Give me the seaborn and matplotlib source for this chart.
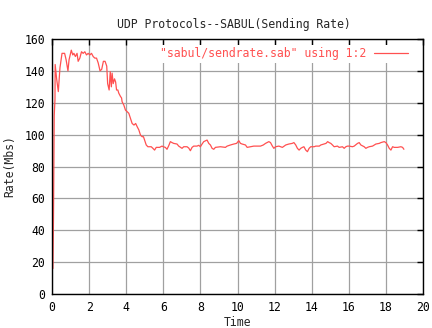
import matplotlib
matplotlib.use("Agg")
import matplotlib.pyplot as plt
import seaborn as sns
import pandas as pd

# Sending rate of SABUL over time (seconds, Mbs)
time_s = [0.05, 0.08, 0.12, 0.16, 0.17, 0.25, 0.34, 0.43, 0.54, 0.68, 0.76, 0.86,
          0.92, 1.04, 1.12, 1.18, 1.26, 1.35, 1.41, 1.50, 1.59, 1.68, 1.77, 1.86,
          1.95, 2.04, 2.13, 2.22, 2.31, 2.40, 2.49, 2.59, 2.68, 2.77, 2.86, 2.95,
          3.00, 3.08, 3.14, 3.20, 3.24, 3.30, 3.37, 3.43, 3.48, 3.55, 3.60, 3.69,
          3.75, 3.78, 3.87, 3.96, 4.05, 4.14, 4.23, 4.32, 4.42, 4.51, 4.59, 4.68,
          4.77, 4.86, 4.93, 4.99, 5.08, 5.17, 5.35, 5.44, 5.53, 5.62, 5.80, 5.93,
          6.00, 6.11, 6.20, 6.29, 6.38, 6.47, 6.56, 6.74, 6.83, 7.01, 7.10, 7.28,
          7.37, 7.46, 7.55, 7.64, 7.82, 7.91, 8.00, 8.09, 8.18, 8.36, 8.45, 8.54,
          8.63, 8.72, 8.81, 9.08, 9.35, 9.44, 9.62, 9.80, 9.95, 10.07, 10.16, 10.25,
          10.43, 10.52, 10.70, 10.88, 11.06, 11.24, 11.39, 11.51, 11.69, 11.78, 11.88,
          11.96, 12.05, 12.23, 12.42, 12.60, 12.77, 12.95, 13.04, 13.14, 13.23, 13.32,
          13.41, 13.50, 13.58, 13.68, 13.77, 13.86, 13.95, 14.13, 14.22, 14.41, 14.49,
          14.67, 14.77, 14.86, 14.94, 15.03, 15.12, 15.21, 15.39, 15.48, 15.66, 15.75,
          15.84, 15.93, 16.02, 16.20, 16.29, 16.47, 16.56, 16.65, 16.83, 16.92, 17.01,
          17.10, 17.28, 17.46, 17.64, 17.73, 17.91, 18.00, 18.09, 18.18, 18.27, 18.36,
          18.45, 18.63, 18.81, 18.90, 18.97]
rate_mbs = [16, 48, 112, 122, 144, 135, 127, 142, 151, 151, 147, 140,
            147, 153, 150, 151, 149, 151, 146, 148, 152, 151, 152, 150,
            151, 150, 151, 149, 148, 148, 145, 140, 141, 146, 146, 143,
            132, 128, 139.5, 130, 138.6, 132, 135, 133, 128, 128, 126, 124,
            123, 120.6, 118.6, 115.4, 114.4, 113.4, 110.2, 107, 106, 107, 105, 103,
            99.7, 98.7, 98.7, 96.6, 93.5, 92.4, 92.4, 91.4, 90.3, 92, 92, 92.8,
            92.4, 92, 90.8, 93, 95.6, 95, 94.5, 94.1, 92.8, 91.4, 92.4, 92.4,
            91.6, 89.9, 92, 92.8, 92.8, 93.3, 92.4, 94.1, 95.6, 96.6, 94.5, 93.5,
            91.4, 90.8, 92, 92.4, 92, 92.8, 93.5, 94.1, 94.5, 96.2, 94.5, 94.1,
            93.5, 92, 92.4, 92.8, 92.8, 92.8, 93.5, 94.5, 95.6, 95, 92.8,
            91.4, 92.4, 92.8, 92, 93.5, 94.1, 94.5, 95, 93.5, 91.4, 90.3,
            91.4, 92, 92.4, 90.3, 89.3, 91.4, 92.4, 92.4, 92.8, 92.8, 93.5,
            94.1, 94.5, 95.6, 95, 94.5, 93.5, 92.4, 92.8, 92, 92.4, 91.4,
            92.4, 92.8, 92.8, 92.4, 92.8, 94.5, 95, 93.5, 92.4, 91.4, 92,
            92.4, 92.8, 94.1, 94.5, 95, 95.6, 95, 93.5, 91.4, 90.3, 92.4,
            92, 92, 92.4, 92, 90.8]

x_ticks = list(range(0, 21, 2))
y_ticks = list(range(0, 161, 20))
series_label = '"sabul/sendrate.sab" using 1:2'

df = pd.DataFrame({"Time": time_s, "Rate": rate_mbs})

sns.set_style("white")
plt.rcParams["font.family"] = ["DejaVu Sans Mono"]
FS = 8.3
plt.rcParams["font.size"] = FS

RED = "#ff5050"

fig = plt.figure(figsize=(4.32, 3.28), dpi=100)
ax = fig.add_axes([52 / 432, 1 - 294 / 328, 371 / 432, 255 / 328])

sns.lineplot(data=df, x="Time", y="Rate", ax=ax, color=RED, linewidth=0.9,
             estimator=None, sort=False, label=series_label)

ax.set_xlim(0, 20)
ax.set_ylim(0, 160)
ax.set_xticks(x_ticks)
ax.set_yticks(y_ticks)
ax.grid(True, color="#a0a0a0", linewidth=0.9)
ax.set_axisbelow(True)
ax.tick_params(direction="in", length=4, width=1, top=True, right=True,
               colors="black", labelsize=FS, pad=5)
for s in ax.spines.values():
    s.set_color("black")
    s.set_linewidth(1)

ax.set_xlabel("Time", fontsize=FS)
ax.set_ylabel("Rate(Mbs)", fontsize=FS)
ax.xaxis.set_label_coords(0.5, -0.085)
ax.yaxis.set_label_coords(-0.097, 0.5)
ax.set_title("UDP Protocols--SABUL(Sending Rate)", fontsize=FS, pad=8, x=0.49)

leg = ax.legend(loc="upper right", bbox_to_anchor=(0.968, 0.978), markerfirst=False,
                frameon=True, framealpha=1, edgecolor="none", facecolor="white",
                fancybox=False, handlelength=3, handletextpad=0.6,
                borderpad=0.25, borderaxespad=0.0, labelcolor=RED, fontsize=FS)
leg.get_frame().set_linewidth(0)

fig.savefig("out.png", dpi=100)
